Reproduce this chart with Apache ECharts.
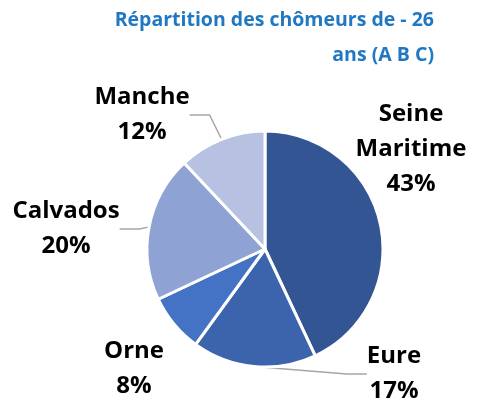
<!DOCTYPE html>
<html>
<head>
<meta charset="utf-8">
<script src="https://cdn.jsdelivr.net/npm/echarts@6/dist/echarts.min.js"></script>
<style>
  html, body { margin: 0; padding: 0; background: #fff; }
  #chart { width: 478px; height: 403px; }
</style>
</head>
<body>
<div id="chart"></div>
<script>
const titleLines = ["Répartition des chômeurs de - 26", "ans (A B C)"];
const departements = ["Seine Maritime", "Eure", "Orne", "Calvados", "Manche"];
const parts = [43, 17, 8, 20, 12];
const couleurs = ["#335593", "#3B64AD", "#4472C4", "#8FA2D4", "#B7C1E1"];

// label spots (centre of the text block), same order as departements
const labelPos = [[411, 149], [394, 374], [134, 369], [66, 229], [142, 115]];
const withLine = [false, true, false, true, true];

const chart = echarts.init(document.getElementById("chart"));

const data = departements.map((d, i) => ({
	name: d,
	value: parts[i],
	itemStyle: { color: couleurs[i] },
	labelLine: { show: withLine[i] }
}));

// one title per line so both lines sit flush right
const titles = titleLines.map((t, i) => ({
	text: t,
	right: 44,
	top: 10 + i * 35,
	padding: 0,
	textStyle: {
		fontFamily: "Open Sans",
		fontSize: 19.5,
		fontWeight: "bold",
		color: "#1F78C1"
	}
}));

chart.setOption({
	backgroundColor: "#fff",
	title: titles,
	series: [{
		type: "pie",
		center: [265, 249],
		radius: 118,
		startAngle: 90,
		clockwise: true,
		data: data,
		itemStyle: { borderColor: "#fff", borderWidth: 3 },
		label: {
			show: true,
			position: "outside",
			formatter: p => p.name.replace(" ", "\n") + "\n" + p.value + "%",
			fontFamily: "Open Sans",
			fontSize: 24,
			fontWeight: "bold",
			color: "#000",
			lineHeight: 35,
			align: "center",
			overflow: "none"
		},
		labelLine: {
			lineStyle: { color: "#A6A6A6", width: 1.5 },
			length: 12,
			length2: 20
		},
		labelLayout: p => ({
			x: labelPos[p.dataIndex][0],
			y: labelPos[p.dataIndex][1],
			align: "center",
			verticalAlign: "middle"
		})
	}]
});
</script>
</body>
</html>
